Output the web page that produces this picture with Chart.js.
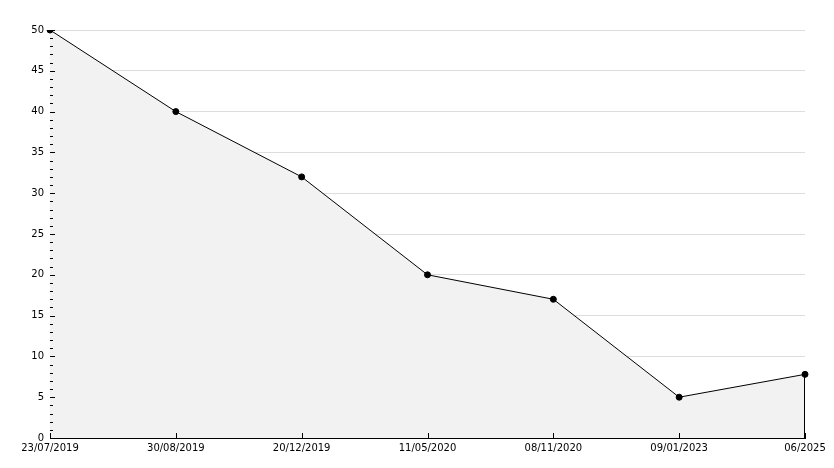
<!DOCTYPE html>
<html>
<head>
<meta charset="utf-8">
<script src="https://cdn.jsdelivr.net/npm/chart.js@4"></script>
<style>
  html, body { margin: 0; padding: 0; background: #fff; }
  #chart { display: block; }
</style>
</head>
<body>
<canvas id="chart" width="834" height="468"></canvas>
<script>
const dates = ['23/07/2019', '30/08/2019', '20/12/2019', '11/05/2020', '08/11/2020', '09/01/2023', '06/2025'];
const values = [50, 40, 32, 20, 17, 5, 7.8];
const yMin = 0;
const yMax = 50;
const yStep = 5;

// small tick marks drawn inside the plot, like the original image
const tickMarks = {
  id: 'tickMarks',
  afterDraw: (chart) => {
    const { ctx, chartArea: { left, right, bottom } } = chart;
    const x = chart.scales.x;
    const y = chart.scales.y;
    ctx.save();
    ctx.strokeStyle = '#000';
    ctx.lineWidth = 1;
    ctx.beginPath();
    for (let v = yMin; v <= yMax; v++) {
      const py = Math.round(y.getPixelForValue(v)) + 0.5;
      const len = v % yStep === 0 ? 5 : 3;
      ctx.moveTo(left, py);
      ctx.lineTo(left + len, py);
    }
    dates.forEach((d, i) => {
      const px = Math.round(x.getPixelForValue(i)) + 0.5;
      ctx.moveTo(px, bottom);
      ctx.lineTo(px, bottom - 5);
    });
    // closing edge of the filled area on the right
    const last = values.length - 1;
    const lx = Math.round(x.getPixelForValue(last)) - 0.5;
    ctx.moveTo(lx, y.getPixelForValue(values[last]));
    ctx.lineTo(lx, bottom);
    ctx.stroke();
    ctx.restore();
  }
};

new Chart(document.getElementById('chart').getContext('2d'), {
  type: 'line',
  data: {
    labels: dates,
    datasets: [{
      data: values,
      borderColor: '#000',
      borderWidth: 1,
      backgroundColor: '#f2f2f2',
      fill: 'origin',
      tension: 0,
      pointRadius: 3,
      pointStyle: 'circle',
      pointBackgroundColor: '#000',
      pointBorderColor: '#000',
      pointBorderWidth: 1
    }]
  },
  options: {
    responsive: false,
    animation: false,
    layout: { padding: { top: 30, right: 29, left: 0, bottom: 0 } },
    plugins: {
      legend: { display: false },
      tooltip: { enabled: false }
    },
    scales: {
      x: {
        type: 'category',
        offset: false,
        grid: { display: false, drawTicks: false },
        border: { display: true, color: '#000', width: 1 },
        ticks: {
          color: '#000',
          font: { family: 'DejaVu Sans', size: 10 },
          padding: 4,
          maxRotation: 0,
          autoSkip: false
        },
        afterFit: (scale) => { scale.height = 30; }
      },
      y: {
        min: yMin,
        max: yMax,
        grid: {
          drawTicks: false,
          color: (c) => (c.tick && c.tick.value > 0 ? '#dddddd' : 'transparent'),
          lineWidth: 1
        },
        border: { display: true, color: '#000', width: 1 },
        ticks: {
          stepSize: yStep,
          color: '#000',
          font: { family: 'DejaVu Sans', size: 10 },
          padding: 6
        },
        afterFit: (scale) => { scale.width = 50; }
      }
    }
  },
  plugins: [tickMarks]
});
</script>
</body>
</html>
